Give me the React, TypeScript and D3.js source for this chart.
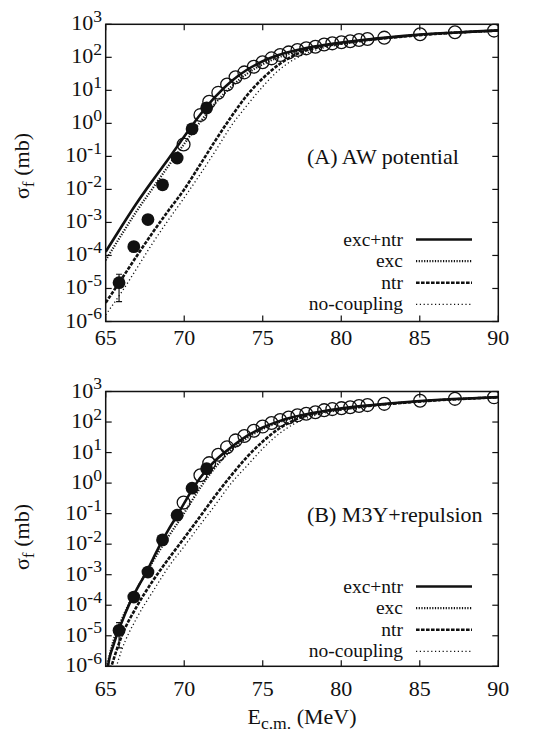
import React from "react";
import * as d3 from "d3";

const FONT = "Liberation Serif, DejaVu Serif, serif";

// ---------- experimental data (same in both panels) ----------
const filledE = [65.85, 66.79, 67.69, 68.62, 69.55, 70.5, 71.43];
const filledSigma = [1.5e-5, 1.85e-4, 1.22e-3, 1.38e-2, 8.9e-2, 0.68, 2.95];
const errorE = [65.85];
const errorLow = [4.0e-6];
const errorHigh = [2.7e-5];

const openE = [69.96, 71.03, 71.59, 72.17, 72.73, 73.27, 73.83, 74.43, 74.99, 75.56, 76.11, 76.65, 77.21, 77.77, 78.35, 78.91, 79.43, 80.01, 80.57, 81.13, 81.67, 82.74, 85.02, 87.24, 89.73];
const openSigma = [0.23, 1.8, 4.5, 8.5, 15, 25, 35, 52, 71, 93, 117, 141, 166, 187, 209, 245, 265, 285, 306, 335, 359, 394, 500, 575, 645];

// ---------- panel A: AW potential ----------
const gridA = [65, 66, 67, 68, 69, 70, 71, 72, 73, 74, 75, 76, 77, 78, 79, 80, 82, 84, 86, 88, 90];
const excNtrA = [1.3e-4, 7.4e-4, 4.0e-3, 1.9e-2, 8.5e-2, 0.40, 1.8, 6.6, 19, 42, 76, 117, 158, 200, 240, 282, 363, 447, 525, 589, 653];
const excA = [7.2e-5, 4.2e-4, 2.3e-3, 1.1e-2, 5.2e-2, 0.24, 1.07, 4.2, 13, 32, 62, 100, 141, 186, 229, 269, 355, 437, 513, 582, 646];
const ntrA = [3.7e-6, 1.9e-5, 1.0e-4, 5.0e-4, 2.3e-3, 1.0e-2, 5.5e-2, 0.31, 1.6, 7.1, 23, 59, 115, 174, 224, 263, 347, 427, 513, 582, 646];
const noCouplingA = [1.6e-6, 7.6e-6, 4.2e-5, 2.4e-4, 1.2e-3, 5.6e-3, 2.8e-2, 0.15, 0.85, 3.5, 13, 40, 87, 145, 200, 245, 339, 427, 513, 582, 646];

// ---------- panel B: M3Y+repulsion ----------
const excNtrBE = [65.05, 65.15, 65.5, 66, 66.5, 67, 67.5, 68, 68.5, 69, 69.5, 70, 70.5, 71, 71.5, 72, 73, 74, 75, 76, 77, 78, 79, 80, 82, 84, 86, 88, 90];
const excNtrB = [2e-7, 1.0e-6, 5.0e-6, 2.6e-5, 1.07e-4, 3.5e-4, 1.0e-3, 3.2e-3, 1.05e-2, 3.0e-2, 7.9e-2, 0.22, 0.60, 1.45, 3.0, 5.6, 15, 35, 66, 105, 148, 191, 234, 282, 363, 447, 525, 589, 653];
const excBE = [65.0, 65.5, 66, 66.5, 67, 67.5, 68, 68.5, 69, 69.5, 70, 70.5, 71, 71.5, 72, 73, 74, 75, 76, 77, 78, 79, 80, 82, 84, 86, 88, 90];
const excB = [6.3e-7, 7.1e-6, 3.2e-5, 1.17e-4, 3.5e-4, 1.0e-3, 2.7e-3, 7.1e-3, 1.8e-2, 4.3e-2, 0.105, 0.27, 0.68, 1.58, 3.4, 12, 30, 59, 98, 138, 182, 224, 269, 355, 437, 513, 582, 646];
const ntrBE = [65.3, 66, 67, 68, 69, 70, 71, 72, 73, 74, 75, 76, 77, 78, 79, 80, 82, 84, 86, 88, 90];
const ntrB = [7.9e-7, 9.3e-6, 9.5e-5, 6.3e-4, 3.3e-3, 1.6e-2, 7.9e-2, 0.40, 1.8, 7.2, 23, 59, 115, 174, 224, 263, 347, 427, 513, 582, 646];
const noCouplingBE = [65.6, 66, 67, 68, 69, 70, 71, 72, 73, 74, 75, 76, 77, 78, 79, 80, 82, 84, 86, 88, 90];
const noCouplingB = [7.1e-7, 3.2e-6, 4.0e-5, 2.8e-4, 1.8e-3, 8.5e-3, 4.2e-2, 0.20, 1.0, 3.7, 13.5, 40, 87, 145, 200, 245, 339, 427, 513, 582, 646];

// ---------- axes ----------
const xTicks = [65, 70, 75, 80, 85, 90];
const yExponents = [-6, -5, -4, -3, -2, -1, 0, 1, 2, 3];
const legendNames = ["exc+ntr", "exc", "ntr", "no-coupling"];

const STYLES = [
  { width: 2.6, dash: "" },
  { width: 2.2, dash: "1.2,1.5" },
  { width: 2.6, dash: "3.6,1.4" },
  { width: 1.3, dash: "1.2,2.6" },
];

const SUB = 17.6;

type Curve = { e: number[]; s: number[] };

function Panel(props: {
  id: string;
  top: number;
  bottom: number;
  label: string;
  labelY: number;
  legendY: number;
  xTickBaseline: number;
  yTitleY: number;
  curves: Curve[];
}) {
  const { id, top, bottom, label, labelY, legendY, xTickBaseline, yTitleY, curves } = props;
  const left = 105.7;
  const right = 498.3;
  const x = d3.scaleLinear().domain([65, 90]).range([left, right]);
  const y = d3.scaleLog().domain([1e-6, 1e3]).range([bottom, top]);
  const line = d3
    .line<[number, number]>()
    .x((d) => x(d[0]))
    .y((d) => y(d[1]))
    .curve(d3.curveMonotoneX);
  const tick = 6;
  const r = 6.4;
  return (
    <g>
      <defs>
        <clipPath id={id}>
          <rect x={left} y={top} width={right - left} height={bottom - top} />
        </clipPath>
      </defs>
      {xTicks.map((t) => (
        <g key={"xt" + t}>
          <line x1={x(t)} x2={x(t)} y1={bottom} y2={bottom - tick} stroke="#111" strokeWidth={1.2} />
          <line x1={x(t)} x2={x(t)} y1={top} y2={top + tick} stroke="#111" strokeWidth={1.2} />
          <text x={x(t)} y={xTickBaseline} textAnchor="middle" fontSize={22} fontFamily={FONT} fill="#111">
            {t}
          </text>
        </g>
      ))}
      {yExponents.map((p) => {
        const yy = y(Math.pow(10, p));
        return (
          <g key={"yt" + p}>
            <line x1={left} x2={left + tick} y1={yy} y2={yy} stroke="#111" strokeWidth={1.2} />
            <line x1={right} x2={right - tick} y1={yy} y2={yy} stroke="#111" strokeWidth={1.2} />
            <text x={102} y={yy + 6} textAnchor="end" fontSize={22} fontFamily={FONT} fill="#111">
              <tspan>10</tspan>
              <tspan dy={-8.5} fontSize={SUB}>
                {String(p)}
              </tspan>
            </text>
          </g>
        );
      })}
      <g clipPath={`url(#${id})`}>
        {curves.map((c, i) => (
          <path
            key={"c" + i}
            d={line(c.e.map((e, k) => [e, c.s[k]] as [number, number])) || ""}
            fill="none"
            stroke="#111"
            strokeWidth={STYLES[i].width}
            strokeDasharray={STYLES[i].dash || undefined}
          />
        ))}
        {errorE.map((e, i) => (
          <g key={"eb" + i}>
            <line x1={x(e)} x2={x(e)} y1={y(errorLow[i])} y2={y(errorHigh[i])} stroke="#111" strokeWidth={1.2} />
            <line x1={x(e) - 3} x2={x(e) + 3} y1={y(errorLow[i])} y2={y(errorLow[i])} stroke="#111" strokeWidth={1.2} />
            <line x1={x(e) - 3} x2={x(e) + 3} y1={y(errorHigh[i])} y2={y(errorHigh[i])} stroke="#111" strokeWidth={1.2} />
          </g>
        ))}
        {openE.map((e, i) => (
          <circle key={"o" + i} cx={x(e)} cy={y(openSigma[i])} r={r} fill="none" stroke="#111" strokeWidth={1.3} />
        ))}
        {filledE.map((e, i) => (
          <circle key={"f" + i} cx={x(e)} cy={y(filledSigma[i])} r={r} fill="#111" />
        ))}
      </g>
      <rect x={left} y={top} width={right - left} height={bottom - top} fill="none" stroke="#111" strokeWidth={1.5} />
      <text x={307} y={labelY} fontSize={22} fontFamily={FONT} fill="#111">
        {label}
      </text>
      {legendNames.map((n, i) => {
        const yy = legendY + i * 21.6;
        return (
          <g key={"lg" + i}>
            <text x={403} y={yy + 6} textAnchor="end" fontSize={19.5} fontFamily={FONT} fill="#111">
              {n}
            </text>
            <line
              x1={416}
              x2={472}
              y1={yy}
              y2={yy}
              stroke="#111"
              strokeWidth={STYLES[i].width}
              strokeDasharray={STYLES[i].dash || undefined}
            />
          </g>
        );
      })}
      <text
        transform={`translate(29,${yTitleY}) rotate(-90)`}
        textAnchor="middle"
        fontSize={22}
        fontFamily={FONT}
        fill="#111"
      >
        <tspan>σ</tspan>
        <tspan dy={5} fontSize={SUB}>f</tspan>
        <tspan dy={-5}> (mb)</tspan>
      </text>
    </g>
  );
}

export default function App() {
  const curvesA: Curve[] = [
    { e: gridA, s: excNtrA },
    { e: gridA, s: excA },
    { e: gridA, s: ntrA },
    { e: gridA, s: noCouplingA },
  ];
  const curvesB: Curve[] = [
    { e: excNtrBE, s: excNtrB },
    { e: excBE, s: excB },
    { e: ntrBE, s: ntrB },
    { e: noCouplingBE, s: noCouplingB },
  ];
  return (
    <svg
      width={535}
      height={732}
      viewBox="0 0 535 732"
      style={{ position: "absolute", left: 0, top: 0, background: "#fff" }}
    >
      <rect x={0} y={0} width={535} height={732} fill="#fff" />
      <Panel
        id="clipA"
        top={24.3}
        bottom={321.5}
        label="(A) AW potential"
        labelY={163.5}
        legendY={239.5}
        xTickBaseline={345}
        yTitleY={166}
        curves={curvesA}
      />
      <Panel
        id="clipB"
        top={391.5}
        bottom={666.3}
        label="(B) M3Y+repulsion"
        labelY={522}
        legendY={586.5}
        xTickBaseline={696}
        yTitleY={537}
        curves={curvesB}
      />
      <text x={302} y={724} textAnchor="middle" fontSize={22} fontFamily={FONT} fill="#111">
        <tspan>E</tspan>
        <tspan dy={5} fontSize={SUB}>c.m.</tspan>
        <tspan dy={-5}> (MeV)</tspan>
      </text>
    </svg>
  );
}
